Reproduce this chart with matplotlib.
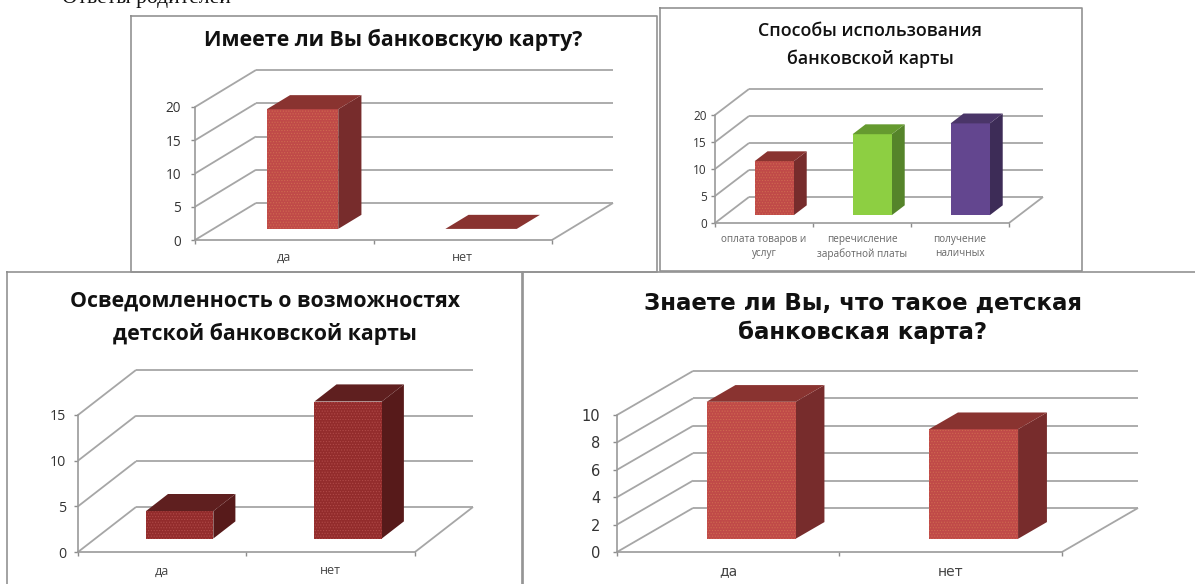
"""Four survey charts about bank cards, pseudo-3D columns on one sheet."""

import matplotlib

matplotlib.use("Agg")
import matplotlib.pyplot as plt
from matplotlib.lines import Line2D
from matplotlib.patches import Polygon

WIDTH = 1195
HEIGHT = 584

page_heading = "Ответы родителей"

card_title = "Имеете ли Вы банковскую карту?"
card_categories = ["да", "нет"]
card_values = [18, 0]
card_ticks = [0, 5, 10, 15, 20]

usage_title = "Способы использования\nбанковской карты"
usage_categories = ["оплата товаров и\nуслуг", "перечисление\nзаработной платы", "получение\nналичных"]
usage_values = [10, 15, 17]
usage_ticks = [0, 5, 10, 15, 20]

aware_title = "Осведомленность о возможностях\nдетской банковской карты"
aware_categories = ["да", "нет"]
aware_values = [3, 15]
aware_ticks = [0, 5, 10, 15]

know_title = "Знаете ли Вы, что такое детская\nбанковская карта?"
know_categories = ["да", "нет"]
know_values = [10, 8]
know_ticks = [0, 2, 4, 6, 8, 10]

# front, top, side, then the colour of the halftone dots
RED = ("#c04a48", "#893330", "#772c2c", "#cf6a50")
DARK_RED = ("#932c2c", "#5f1f1f", "#571a1a", "#b04a48")
GREEN = ("#8dcf42", "#659a2f", "#55842a", "#8dcf42")
PURPLE = ("#63468f", "#4a3568", "#3d2c57", "#63468f")

plt.rcParams["font.family"] = ["Open Sans", "DejaVu Sans"]
plt.rcParams["hatch.linewidth"] = 0.5


def add_frame(fig, left, top, right, bottom):
    xs = [left, right, right, left, left]
    ys = [top, top, bottom, bottom, top]
    fig.add_artist(Line2D([x / WIDTH for x in xs], [1 - y / HEIGHT for y in ys],
                          color="#929292", lw=1.2, transform=fig.transFigure))


def draw_chart(fig, plot_box, depth, title, title_pos, title_style, categories, values, ticks,
               colors, tick_size, tick_pad, label_size, label_pad, label_color="#444444", family=None):
    left, top, right, bottom = plot_box
    ax = fig.add_axes([left / WIDTH, 1 - bottom / HEIGHT, (right - left) / WIDTH, (bottom - top) / HEIGHT])
    ax.patch.set_visible(False)
    count = len(categories)
    ymax = ticks[-1]
    ax.set_xlim(0, count)
    ax.set_ylim(0, ymax)

    # depth vector in data units, so the walls follow the axes scale
    depth_x = depth[0] / (right - left) * count
    depth_y = depth[1] / (bottom - top) * ymax

    def project(x, y, t):
        return x + t * depth_x, y + t * depth_y

    grid = {"color": "#a6a6a6", "lw": 1.3, "clip_on": False, "solid_capstyle": "butt", "zorder": 1}
    for tick in ticks:
        wall_x, wall_y = project(0, tick, 1)
        end_x, end_y = project(count, tick, 1)
        ax.plot([0, wall_x], [tick, wall_y], **grid)
        ax.plot([wall_x, end_x], [wall_y, end_y], **grid)
    floor_x, floor_y = project(count, 0, 1)
    ax.plot([count, floor_x], [0, floor_y], **grid)

    for index, value in enumerate(values):
        x0, x1 = index + 0.3, index + 0.7
        face, top_color, side, dots = colors[index] if isinstance(colors, list) else colors
        corners = {
            "front": [project(x0, 0, 0.3), project(x1, 0, 0.3), project(x1, value, 0.3), project(x0, value, 0.3)],
            "side": [project(x1, 0, 0.3), project(x1, 0, 0.68), project(x1, value, 0.68), project(x1, value, 0.3)],
            "top": [project(x0, value, 0.3), project(x1, value, 0.3), project(x1, value, 0.68), project(x0, value, 0.68)],
        }
        ax.add_patch(Polygon(corners["side"], fc=side, ec="none", clip_on=False, zorder=3))
        ax.add_patch(Polygon(corners["front"], fc=face, ec=dots, lw=0, hatch="......", clip_on=False, zorder=3))
        ax.add_patch(Polygon(corners["top"], fc=top_color, ec="none", clip_on=False, zorder=4))

    for name in ("top", "right"):
        ax.spines[name].set_visible(False)
    for name in ("left", "bottom"):
        ax.spines[name].set_color("#9a9a9a")
        ax.spines[name].set_linewidth(1.2)

    ax.set_yticks(ticks)
    ax.set_xticks(range(count + 1))
    ax.set_xticklabels([])
    ax.set_xticks([i + 0.5 for i in range(count)], labels=categories, minor=True)
    ax.tick_params(axis="y", length=3, width=1, color="#8c8c8c", labelsize=tick_size,
                   labelcolor="#333333", pad=tick_pad)
    ax.tick_params(axis="x", which="major", length=3, width=1, color="#8c8c8c")
    ax.tick_params(axis="x", which="minor", length=0, labelsize=label_size,
                   labelcolor=label_color, pad=label_pad)
    for label in ax.get_xticklabels(minor=True):
        label.set_linespacing(1.35)
    if family:
        for label in ax.get_xticklabels(minor=True) + ax.get_yticklabels():
            label.set_family(family)
        title_style = {**title_style, "family": family}

    fig.text(title_pos[0] / WIDTH, 1 - title_pos[1] / HEIGHT, title, ha="center", va="center",
             color="#111111", **title_style)


fig = plt.figure(figsize=(WIDTH / 100, HEIGHT / 100), dpi=100, facecolor="white")

fig.text(62 / WIDTH, 1 - 3 / HEIGHT, page_heading, family="Liberation Serif", fontsize=15.5,
         color="#111111", ha="left", va="baseline")

add_frame(fig, 131, 16, 657, 272)
add_frame(fig, 660, 8, 1082, 271)
add_frame(fig, 7, 272, 522, 600)
add_frame(fig, 523, 272, 1215, 600)

draw_chart(fig, (195, 107, 552, 240), (61, 37), card_title, (393, 40),
           {"fontsize": 15.4, "fontweight": "bold"}, card_categories, card_values, card_ticks,
           RED, 9.8, 7, 9, 8)
draw_chart(fig, (715, 115, 1009, 223), (34, 26), usage_title, (870, 45),
           {"fontsize": 12.9, "fontweight": "semibold", "linespacing": 1.7}, usage_categories, usage_values,
           usage_ticks, [RED, GREEN, PURPLE], 8.5, 3, 7.2, 8, "#666666")
draw_chart(fig, (78, 415, 415, 552), (58, 45), aware_title, (265, 318),
           {"fontsize": 15.3, "fontweight": "bold", "linespacing": 1.65}, aware_categories, aware_values, aware_ticks,
           DARK_RED, 10.2, 5.5, 9, 9)
draw_chart(fig, (617, 415, 1062, 552), (76, 44), know_title, (863, 318),
           {"fontsize": 16.5, "fontweight": "bold", "linespacing": 1.35}, know_categories, know_values, know_ticks,
           RED, 10.5, 9, 10, 9, family="DejaVu Sans")

fig.savefig("out.png", dpi=100)
plt.close(fig)
